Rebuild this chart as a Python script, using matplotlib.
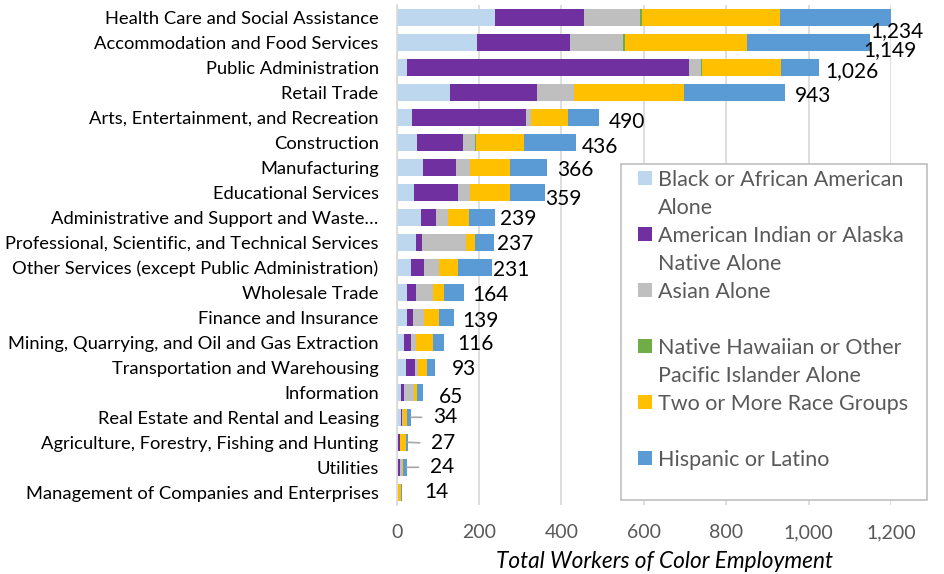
import matplotlib.pyplot as plt
from matplotlib.patches import Rectangle
from matplotlib.ticker import FuncFormatter
import numpy as np

plt.rcParams['font.family'] = ['Lato', 'DejaVu Sans']

industries = [
    'Health Care and Social Assistance',
    'Accommodation and Food Services',
    'Public Administration',
    'Retail Trade',
    'Arts, Entertainment, and Recreation',
    'Construction',
    'Manufacturing',
    'Educational Services',
    'Administrative and Support and Waste\u2026',
    'Professional, Scientific, and Technical Services',
    'Other Services (except Public Administration)',
    'Wholesale Trade',
    'Finance and Insurance',
    'Mining, Quarrying, and Oil and Gas Extraction',
    'Transportation and Warehousing',
    'Information',
    'Real Estate and Rental and Leasing',
    'Agriculture, Forestry, Fishing and Hunting',
    'Utilities',
    'Management of Companies and Enterprises',
]

black = [239, 196, 25, 130, 36, 50, 63, 41, 59, 46, 35, 25, 25, 17, 23, 10, 10, 4, 4, 3]
aian = [216, 225, 684, 211, 278, 111, 81, 109, 36, 15, 32, 22, 15, 17, 22, 8, 4, 4, 5, 0]
asian = [136, 128, 30, 90, 13, 29, 35, 29, 30, 107, 35, 41, 27, 13, 7, 23, 1, 0, 3, 1]
nhpi = [5, 5, 2, 0, 0, 2, 0, 0, 0, 0, 0, 0, 0, 0, 0, 0, 0, 0, 0, 0]
two_plus = [335, 296, 193, 266, 90, 117, 95, 96, 50, 22, 48, 28, 35, 40, 22, 9, 10, 14, 4, 6]
hispanic = [303, 299, 92, 246, 73, 127, 92, 84, 64, 47, 81, 48, 37, 29, 19, 15, 9, 5, 8, 4]
totals = [1234, 1149, 1026, 943, 490, 436, 366, 359, 239, 237, 231, 164, 139, 116, 93, 65, 34, 27, 24, 14]

series_names = [
    'Black or African American\nAlone',
    'American Indian or Alaska\nNative Alone',
    'Asian Alone',
    'Native Hawaiian or Other\nPacific Islander Alone',
    'Two or More Race Groups',
    'Hispanic or Latino',
]
colors = ['#BDD7EE', '#7030A0', '#BFBFBF', '#70AD47', '#FFC000', '#5B9BD5']

# data label nudges in pixels (right of bar end / downward), like the hand-placed Excel labels
label_dx = [-21, -7, 6, 10, 10, 5, 10, 1, 5, 3, 1, 8, 8, 13, 17, 15, 22, 23, 23, 22]
label_dy = [12, 6, 2, 2, 3, 3, 1, 5, 0, 0, 1, 1, 2, 0, 0, 3, -2, -1, -2, -2]
leader_rows = ['Real Estate and Rental and Leasing',
               'Agriculture, Forestry, Fishing and Hunting',
               'Utilities']

W, H = 944, 574
fig = plt.figure(figsize=(W / 100, H / 100), dpi=100)
ax = fig.add_axes([396.7 / W, 1 - 504.8 / H, (891 - 396.7) / W, 500 / H])

# stacked horizontal bars
y = np.arange(len(industries))
left = np.zeros(len(industries))
for vals, color in zip([black, aian, asian, nhpi, two_plus, hispanic], colors):
    ax.barh(y, vals, left=left, height=0.67, color=color, edgecolor='none', zorder=2)
    left += np.array(vals)

ax.set_xlim(0, 1200)
ax.set_ylim(len(industries) - 0.5, -0.5)
ax.set_xticks(range(0, 1201, 200))
ax.xaxis.set_major_formatter(FuncFormatter(lambda v, p: f'{v:,.0f}'))
ax.set_yticks(y, industries)
ax.grid(axis='x', color='#D9D9D9', lw=1.2, zorder=0)
for s in ['top', 'right', 'bottom']:
    ax.spines[s].set_visible(False)
ax.spines['left'].set_color('#D9D9D9')
ax.spines['left'].set_linewidth(1.2)
ax.tick_params(axis='y', length=0, pad=13, labelsize=13.25, labelcolor='black')
ax.tick_params(axis='x', length=0, pad=14, labelsize=14, labelcolor='#595959')

# total labels
for i, t in enumerate(totals):
    kw = {}
    if industries[i] in leader_rows:
        kw['arrowprops'] = dict(arrowstyle='-', color='#A6A6A6', lw=1.2,
                                shrinkA=6, shrinkB=0, relpos=(0, 0.5))
    ax.annotate(f'{t:,}', xy=(min(t, 1200), i), xytext=(label_dx[i], -label_dy[i] - 2),
                textcoords='offset pixels', ha='left', va='center', fontsize=15,
                color='black', annotation_clip=False, **kw)

fig.text(665 / W, 1 - 561 / H, 'Total Workers of Color Employment', ha='center',
         va='center', fontsize=16.3, style='italic', color='black')

# legend box, drawn by hand so the swatch sits on the first line of each entry
fig.patches.append(Rectangle((621 / W, 1 - 500 / H), (927 - 621) / W, (500 - 164) / H,
                             transform=fig.transFigure, facecolor='white',
                             edgecolor='#BFBFBF', lw=1.2))
for k, (name, color) in enumerate(zip(series_names, colors)):
    yc = 178.3 + 56 * k
    fig.patches.append(Rectangle((638 / W, 1 - (yc + 7) / H), 14 / W, 14 / H,
                                 transform=fig.transFigure, facecolor=color,
                                 edgecolor='none'))
    for j, line in enumerate(name.split('\n')):
        fig.text(657.7 / W, 1 - (yc + 28 * j + 1.5) / H, line, ha='left', va='center',
                 fontsize=15.5, color='#595959')

fig.savefig('out.png', dpi=100)
